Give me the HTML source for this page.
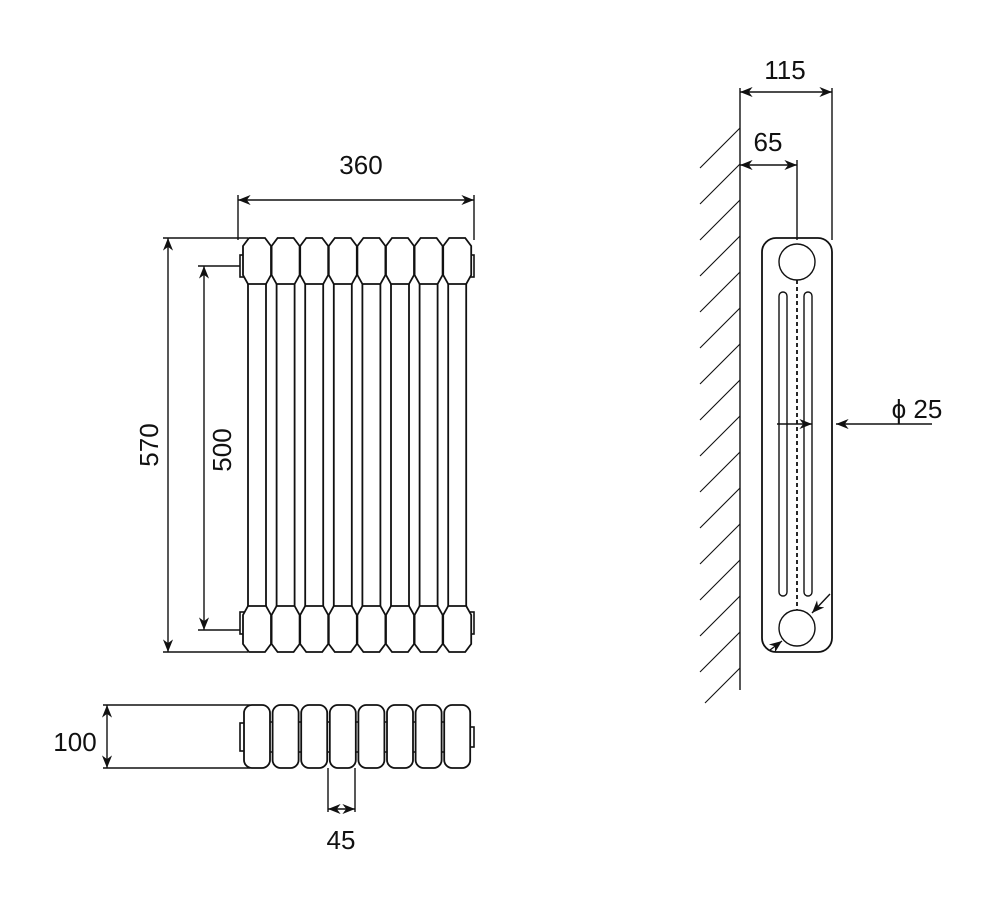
<!DOCTYPE html>
<html><head><meta charset="utf-8"><style>html,body{margin:0;background:#fff}svg{display:block}text{font-family:"Liberation Sans",sans-serif;font-size:26px;fill:#111}</style></head><body>
<svg width="1000" height="900" viewBox="0 0 1000 900" xmlns="http://www.w3.org/2000/svg">
<defs>
<marker id="a" viewBox="0 0 10 10" refX="10" refY="5" markerWidth="9" markerHeight="9" orient="auto-start-reverse"><path d="M0,1 L10,5 L0,9 L3,5z" fill="#111"/></marker>
<g id="col" fill="#fff" stroke="#111" stroke-width="1.8">
<rect x="-9" y="280" width="18" height="335"/>
<path d="M-8,238 H8 L14,246 V275 L9,284 H-9 L-14,275 V246 Z"/>
<path d="M-9,606 H9 L14,615 V644 L8,652 H-8 L-14,644 V615 Z"/>
</g>
<g id="bcol" fill="#fff" stroke="#111" stroke-width="1.8"><rect x="-13" y="705" width="26" height="63" rx="8"/></g>
</defs>
<g stroke="#111" stroke-width="1.6" fill="none">
<rect x="240" y="255" width="6" height="22"/><rect x="240" y="612" width="6" height="22"/>
<rect x="468" y="255" width="6" height="22"/><rect x="468" y="612" width="6" height="22"/>
<rect x="240" y="723" width="6" height="28"/><rect x="468" y="727" width="6" height="20"/>
<path d="M246,720 h10 M246,754 h10"/>
</g>
<g>
<use href="#col" x="257"/><use href="#col" x="285.6"/><use href="#col" x="314.2"/><use href="#col" x="342.8"/><use href="#col" x="371.4"/><use href="#col" x="400"/><use href="#col" x="428.6"/><use href="#col" x="457.2"/>
</g>
<g stroke="#111" stroke-width="1.6" fill="none">
<path d="M250,722 H464 M250,752 H464"/>
</g>
<g>
<use href="#bcol" x="257"/><use href="#bcol" x="285.6"/><use href="#bcol" x="314.2"/><use href="#bcol" x="342.8"/><use href="#bcol" x="371.4"/><use href="#bcol" x="400"/><use href="#bcol" x="428.6"/><use href="#bcol" x="457.2"/>
</g>
<g stroke="#111" stroke-width="1.4" fill="none">
<path d="M238,195 V240 M474,195 V240"/>
<line x1="238" y1="200" x2="474" y2="200" marker-start="url(#a)" marker-end="url(#a)"/>
<path d="M163,238 H248 M163,652 H248"/>
<line x1="168" y1="238" x2="168" y2="652" marker-start="url(#a)" marker-end="url(#a)"/>
<path d="M198,266 H240 M198,630 H240"/>
<line x1="204" y1="266" x2="204" y2="630" marker-start="url(#a)" marker-end="url(#a)"/>
<path d="M103,705 H250 M103,768 H250"/>
<line x1="107" y1="705" x2="107" y2="768" marker-start="url(#a)" marker-end="url(#a)"/>
<path d="M328,768 V812 M355,768 V812"/>
<line x1="328" y1="809" x2="355" y2="809" marker-start="url(#a)" marker-end="url(#a)"/>
<line x1="740" y1="88" x2="740" y2="690"/>
<g stroke-width="1.1">
<path d="M740,128 L700,168 M740,164 L700,204 M740,200 L700,240 M740,236 L700,276 M740,272 L700,312 M740,308 L700,348 M740,344 L700,384 M740,380 L700,420 M740,416 L700,456 M740,452 L700,492 M740,488 L700,528 M740,524 L700,564 M740,560 L700,600 M740,596 L700,636 M740,632 L700,672 M740,668 L705,703"/>
</g>
<rect x="762" y="238" width="70" height="414" rx="14" stroke-width="1.8"/>
<circle cx="797" cy="262" r="18"/><circle cx="797" cy="628" r="18"/>
<rect x="779" y="292" width="8" height="304" rx="4"/><rect x="804" y="292" width="8" height="304" rx="4"/>
<line x1="797" y1="280" x2="797" y2="610" stroke-dasharray="4,3" stroke-width="1.8"/>
<path d="M832,88 V240 M797,160 V240"/>
<line x1="740" y1="92" x2="832" y2="92" marker-start="url(#a)" marker-end="url(#a)"/>
<line x1="740" y1="165" x2="797" y2="165" marker-start="url(#a)" marker-end="url(#a)"/>
<line x1="777" y1="424" x2="812" y2="424" marker-end="url(#a)"/>
<line x1="932" y1="424" x2="836" y2="424" marker-end="url(#a)"/>
<line x1="830" y1="594" x2="812" y2="613" marker-end="url(#a)"/>
<line x1="770" y1="650" x2="782" y2="641" marker-end="url(#a)"/>
</g>
<text x="361" y="174" text-anchor="middle">360</text>
<text transform="translate(158,445) rotate(-90)" text-anchor="middle">570</text>
<text transform="translate(231,450) rotate(-90)" text-anchor="middle">500</text>
<text x="75" y="751" text-anchor="middle">100</text>
<text x="341" y="849" text-anchor="middle">45</text>
<text x="785" y="79" text-anchor="middle">115</text>
<text x="768" y="151" text-anchor="middle">65</text>
<text x="917" y="418" text-anchor="middle">ϕ 25</text>
</svg>
</body></html>
